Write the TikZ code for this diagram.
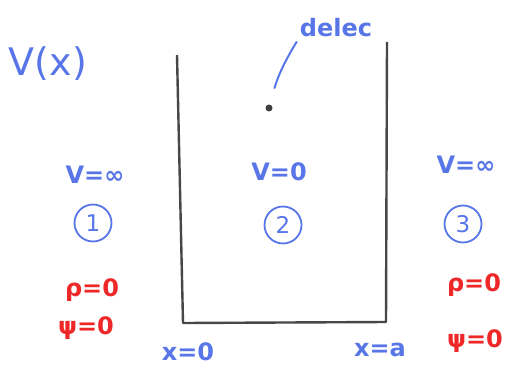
\documentclass[tikz,border=0pt]{standalone}
\usepackage{fontspec}
\setmainfont{DejaVu Sans}
\usepackage{xcolor}
\usepackage{tikz}
\usetikzlibrary{positioning}
\definecolor{bluepen}{RGB}{88,118,232}
\definecolor{redpen}{RGB}{238,40,40}

\begin{document}
\begin{tikzpicture}[x=1pt, y=-1pt, every node/.style={inner sep=1pt},
  bluelab/.style={text=bluepen, font=\fontsize{24}{26}\selectfont\bfseries},
  redlab/.style={text=redpen, font=\fontsize{24}{26}\selectfont\bfseries},
  region/.style={circle, draw=bluepen, line width=1.8pt, text=bluepen, minimum size=37pt, font=\fontsize{23}{25}\selectfont},
  wall/.style={draw=black!72, line width=2.4pt, line join=round}]
\useasboundingbox (0,0) rectangle (505,369);
% the well
\coordinate (tl) at (177,55);
\coordinate (bl) at (183,323);
\coordinate (br) at (386,322);
\coordinate (tr) at (387,42);
\draw[wall] (tl) -- (bl) -- (br) -- (tr);
\node[bluelab, font=\fontsize{38}{40}\selectfont] (vx) at (48,64) {V(x)};
% electron
\node[circle, fill=black!75, inner sep=0pt, minimum size=7pt] (dot) at (269,108) {};
\node[bluelab, font=\fontsize{24}{26}\selectfont\bfseries] (delec) at (336,28) {delec};
\draw[bluepen, line width=2pt, line cap=round, shorten <=17pt, shorten >=4pt] (dot) to[bend left=8] (delec.south west);
% regions
\node[bluelab] (v1) at (95,175) {V=∞};
\node[bluelab] (v2) at (279,172) {V=0};
\node[bluelab] (v3) at (466,165) {V=∞};
\node[region] (r1) at (93,223) {1};
\node[region] (r2) at (283,225) {2};
\node[region] (r3) at (463,224) {3};
\node[redlab] (rho1) at (92,290) {ρ=0};
\node[redlab] (rho3) at (474,285) {ρ=0};
\node[redlab] (psi1) at (86,328) {ψ=0};
\node[redlab] (psi3) at (475,341) {ψ=0};
\node[bluelab] (x0) at (188,352) {x=0};
\node[bluelab] (xa) at (380,350) {x=a};
\end{tikzpicture}
\end{document}
